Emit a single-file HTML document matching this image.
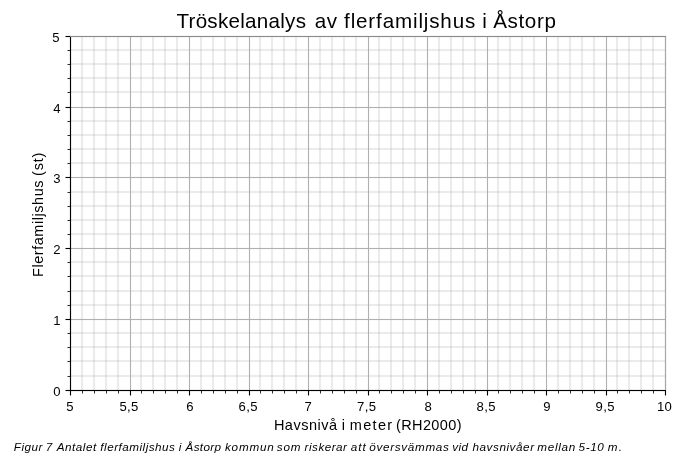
<!DOCTYPE html>
<html lang="sv">
<head>
<meta charset="utf-8">
<title>Tröskelanalys av flerfamiljshus i Åstorp</title>
<style>
html,body{margin:0;padding:0;background:#fff}
body{position:relative;width:700px;height:459px;overflow:hidden;font-family:"Liberation Sans",sans-serif;color:#000}
.plot{position:absolute;left:0;top:0;display:block}
.plot path{fill:none}
.mn{stroke:#b0b0b0;stroke-opacity:.25;stroke-width:2.08}
.mnh{fill:#b0b0b0;fill-opacity:.25}
.mj{stroke:#b0b0b0;stroke-width:1.11}
.mjh{fill:#b0b0b0}
.tk{stroke:#000;stroke-width:1.11}
.tk2{stroke:#000;stroke-width:.83}
.ax{fill:#000}
.spr{stroke:#a6a6a6;stroke-width:1.11}
.spt{fill:#8c8c8c}
.txt{position:absolute;left:0;top:0;width:700px;height:459px;will-change:transform}
.t{position:absolute;white-space:nowrap;line-height:1;margin:0;padding:0;font-family:"Liberation Sans",sans-serif;color:#000}
.c{text-align:center}
.r{text-align:right}
.i{font-style:italic}
.rot{transform:rotate(-90deg);transform-origin:0 0}
</style>
</head>
<body>
<svg class="plot" width="700" height="459" viewBox="0 0 700 459">
<path class="mn" d="M82 36V390M94 36V390M106 36V390M118 36V390M141 36V390M153 36V390M165 36V390M177 36V390M201 36V390M213 36V390M225 36V390M237 36V390M260 36V390M272 36V390M284 36V390M296 36V390M320 36V390M332 36V390M344 36V390M356 36V390M379 36V390M391 36V390M403 36V390M415 36V390M439 36V390M451 36V390M463 36V390M475 36V390M498 36V390M510 36V390M522 36V390M534 36V390M558 36V390M570 36V390M582 36V390M594 36V390M617 36V390M629 36V390M641 36V390M653 36V390"/>
<rect class="mnh" x="70" y="48.96" width="595" height="2.08"/>
<rect class="mnh" x="70" y="62.96" width="595" height="2.08"/>
<rect class="mnh" x="70" y="76.96" width="595" height="2.08"/>
<rect class="mnh" x="70" y="90.96" width="595" height="2.08"/>
<rect class="mnh" x="70" y="119.96" width="595" height="2.08"/>
<rect class="mnh" x="70" y="133.96" width="595" height="2.08"/>
<rect class="mnh" x="70" y="147.96" width="595" height="2.08"/>
<rect class="mnh" x="70" y="161.96" width="595" height="2.08"/>
<rect class="mnh" x="70" y="190.96" width="595" height="2.08"/>
<rect class="mnh" x="70" y="204.96" width="595" height="2.08"/>
<rect class="mnh" x="70" y="218.96" width="595" height="2.08"/>
<rect class="mnh" x="70" y="232.96" width="595" height="2.08"/>
<rect class="mnh" x="70" y="260.96" width="595" height="2.08"/>
<rect class="mnh" x="70" y="274.96" width="595" height="2.08"/>
<rect class="mnh" x="70" y="289.96" width="595" height="2.08"/>
<rect class="mnh" x="70" y="303.96" width="595" height="2.08"/>
<rect class="mnh" x="70" y="331.96" width="595" height="2.08"/>
<rect class="mnh" x="70" y="345.96" width="595" height="2.08"/>
<rect class="mnh" x="70" y="359.96" width="595" height="2.08"/>
<rect class="mnh" x="70" y="374.96" width="595" height="2.08"/>
<path class="mj" d="M70.5 36V391M130.5 36V391M189.5 36V391M249.5 36V391M308.5 36V391M368.5 36V391M427.5 36V391M487.5 36V391M546.5 36V391M606.5 36V391M665.5 36V391"/>
<rect class="mjh" x="70" y="35.945" width="596" height="1.11"/>
<rect class="mjh" x="70" y="106.945" width="596" height="1.11"/>
<rect class="mjh" x="70" y="176.945" width="596" height="1.11"/>
<rect class="mjh" x="70" y="247.945" width="596" height="1.11"/>
<rect class="mjh" x="70" y="318.945" width="596" height="1.11"/>
<rect class="mjh" x="70" y="389.945" width="596" height="1.11"/>
<path class="tk2" d="M82.5 390.5V393.5M94.5 390.5V393.5M106.5 390.5V393.5M118.5 390.5V393.5M141.5 390.5V393.5M153.5 390.5V393.5M165.5 390.5V393.5M177.5 390.5V393.5M201.5 390.5V393.5M213.5 390.5V393.5M225.5 390.5V393.5M237.5 390.5V393.5M260.5 390.5V393.5M272.5 390.5V393.5M284.5 390.5V393.5M296.5 390.5V393.5M320.5 390.5V393.5M332.5 390.5V393.5M344.5 390.5V393.5M356.5 390.5V393.5M379.5 390.5V393.5M391.5 390.5V393.5M403.5 390.5V393.5M415.5 390.5V393.5M439.5 390.5V393.5M451.5 390.5V393.5M463.5 390.5V393.5M475.5 390.5V393.5M498.5 390.5V393.5M510.5 390.5V393.5M522.5 390.5V393.5M534.5 390.5V393.5M558.5 390.5V393.5M570.5 390.5V393.5M582.5 390.5V393.5M594.5 390.5V393.5M617.5 390.5V393.5M629.5 390.5V393.5M641.5 390.5V393.5M653.5 390.5V393.5M67.5 50.5H70.5M67.5 64.5H70.5M67.5 78.5H70.5M67.5 92.5H70.5M67.5 121.5H70.5M67.5 135.5H70.5M67.5 149.5H70.5M67.5 163.5H70.5M67.5 192.5H70.5M67.5 206.5H70.5M67.5 220.5H70.5M67.5 234.5H70.5M67.5 262.5H70.5M67.5 276.5H70.5M67.5 291.5H70.5M67.5 305.5H70.5M67.5 333.5H70.5M67.5 347.5H70.5M67.5 361.5H70.5M67.5 376.5H70.5"/>
<path class="tk" d="M70.5 390.5V395.5M130.5 390.5V395.5M189.5 390.5V395.5M249.5 390.5V395.5M308.5 390.5V395.5M368.5 390.5V395.5M427.5 390.5V395.5M487.5 390.5V395.5M546.5 390.5V395.5M606.5 390.5V395.5M665.5 390.5V395.5"/>
<rect class="ax" x="65.5" y="35.945" width="5" height="1.11"/>
<rect class="ax" x="65.5" y="106.945" width="5" height="1.11"/>
<rect class="ax" x="65.5" y="176.945" width="5" height="1.11"/>
<rect class="ax" x="65.5" y="247.945" width="5" height="1.11"/>
<rect class="ax" x="65.5" y="318.945" width="5" height="1.11"/>
<rect class="ax" x="65.5" y="389.945" width="5" height="1.11"/>
<rect class="ax" x="69.945" y="35.945" width="1.11" height="355.11"/>
<rect class="ax" x="69.945" y="389.945" width="596.11" height="1.11"/>
<path class="spr" d="M665.5 35.95V390"/>
<rect class="spt" x="70" y="35.945" width="596.05" height="1.11"/>
</svg>
<div class="txt">
<div class="t" style="left:176.45px;top:11px;font-size:20.6px;letter-spacing:0.62px"><span style="letter-spacing:0.27px;word-spacing:2.455px">Tröskelanalys </span><span style="letter-spacing:0.62px;word-spacing:0.053px">av </span><span style="letter-spacing:0.85px;word-spacing:-0.368px">flerfamiljshus </span><span style="letter-spacing:0.62px;word-spacing:-0.663px">i </span><span style="letter-spacing:0.62px">Åstorp</span></div>
<div class="t r" style="left:19.1px;top:31px;font-size:13.1px;letter-spacing:0px;width:40.5px">5</div>
<div class="t r" style="left:20px;top:102px;font-size:13.1px;letter-spacing:0px;width:40.5px">4</div>
<div class="t r" style="left:20px;top:172px;font-size:13.1px;letter-spacing:0px;width:40.5px">3</div>
<div class="t r" style="left:20px;top:243px;font-size:13.1px;letter-spacing:0px;width:40.5px">2</div>
<div class="t r" style="left:20px;top:314px;font-size:13.1px;letter-spacing:0px;width:40.5px">1</div>
<div class="t r" style="left:20px;top:385px;font-size:13.1px;letter-spacing:0px;width:40.5px">0</div>
<div class="t c" style="left:40.1px;top:400px;font-size:13.1px;letter-spacing:0.4px;width:60px">5</div>
<div class="t c" style="left:99.1px;top:400px;font-size:13.1px;letter-spacing:0.4px;width:60px">5,5</div>
<div class="t c" style="left:160.1px;top:400px;font-size:13.1px;letter-spacing:0.4px;width:60px">6</div>
<div class="t c" style="left:218.2px;top:400px;font-size:13.1px;letter-spacing:0.4px;width:60px">6,5</div>
<div class="t c" style="left:278.25px;top:400px;font-size:13.1px;letter-spacing:0.4px;width:60px">7</div>
<div class="t c" style="left:336.7px;top:400px;font-size:13.1px;letter-spacing:0.4px;width:60px">7,5</div>
<div class="t c" style="left:398.25px;top:400px;font-size:13.1px;letter-spacing:0.4px;width:60px">8</div>
<div class="t c" style="left:456.3px;top:400px;font-size:13.1px;letter-spacing:0.4px;width:60px">8,5</div>
<div class="t c" style="left:517.1px;top:400px;font-size:13.1px;letter-spacing:0.4px;width:60px">9</div>
<div class="t c" style="left:575.25px;top:400px;font-size:13.1px;letter-spacing:0.4px;width:60px">9,5</div>
<div class="t c" style="left:634.6px;top:400px;font-size:13.1px;letter-spacing:0.4px;width:60px">10</div>
<div class="t" style="left:273.88px;top:418px;font-size:14.5px;letter-spacing:0.58px"><span style="letter-spacing:0.494px;word-spacing:-0.37px">Havsnivå </span><span style="letter-spacing:0.58px;word-spacing:-0.314px">i </span><span style="letter-spacing:1.33px;word-spacing:-2.763px">meter </span><span style="letter-spacing:0.372px">(RH2000)</span></div>
<div class="t rot" style="left:31px;top:276.91px;font-size:14.5px;letter-spacing:0.55px"><span style="letter-spacing:0.55px;word-spacing:-0.602px">Flerfamiljshus </span><span style="letter-spacing:0.75px">(st)</span></div>
<div class="t i" style="left:13.85px;top:441px;font-size:11.7px;letter-spacing:0.505px"><span style="letter-spacing:0.505px;word-spacing:-0.939px">Figur </span><span style="letter-spacing:0.505px;word-spacing:0.184px">7 </span><span style="letter-spacing:0.505px;word-spacing:-0.093px">Antalet </span><span style="letter-spacing:0.486px;word-spacing:-0.374px">flerfamiljshus </span><span style="letter-spacing:0.505px;word-spacing:-0.088px">i </span><span style="letter-spacing:0.335px;word-spacing:0.073px">Åstorp </span><span style="letter-spacing:0.815px;word-spacing:-1.942px">kommun </span><span style="letter-spacing:0.755px;word-spacing:-0.525px">som </span><span style="letter-spacing:0.491px;word-spacing:-0.386px">riskerar </span><span style="letter-spacing:1.005px;word-spacing:-1.816px">att </span><span style="letter-spacing:0.685px;word-spacing:-1.182px">översvämmas </span><span style="letter-spacing:0.38px;word-spacing:0.4px">vid </span><span style="letter-spacing:0.561px;word-spacing:-1.129px">havsnivåer </span><span style="letter-spacing:0.695px;word-spacing:-1.278px">mellan </span><span style="letter-spacing:0.622px;word-spacing:-0.659px">5-10 </span><span style="letter-spacing:1.505px">m.</span></div>
</div>
</body>
</html>
